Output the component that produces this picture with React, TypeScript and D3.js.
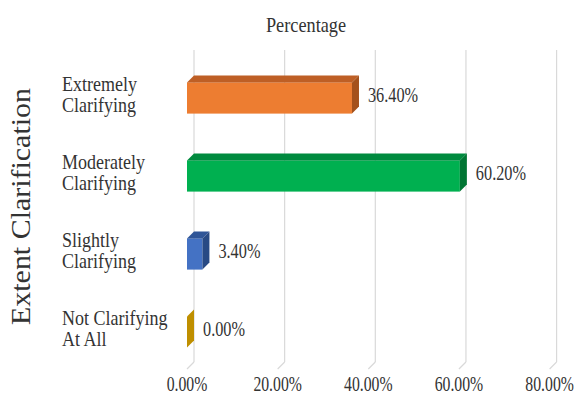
import React from "react";
import * as d3 from "d3";

const categories = ["Extremely Clarifying", "Moderately Clarifying", "Slightly Clarifying", "Not Clarifying At All"];
const categoryLines = [["Extremely", "Clarifying"], ["Moderately", "Clarifying"], ["Slightly", "Clarifying"], ["Not Clarifying", "At All"]];
const values = [36.4, 60.2, 3.4, 0.0];
const ticks = [0, 20, 40, 60, 80];
const frontColors = ["#ED7D31", "#00B050", "#4472C4", "#BF8F00"];
const topColors = ["#BE5F25", "#008A3E", "#2F5597", "#A67C00"];
const sideColors = ["#A4511C", "#007533", "#284A84", "#A07800"];

const W = 582, H = 395;
const DX = 7, DY = 7;
const FONT = "'Liberation Serif', 'Times New Roman', serif";

export default function App() {
  const x = d3.scaleLinear().domain([0, 80]).range([187, 549.6]);
  const y = d3.scaleBand<string>().domain(categories).range([59, 371]).paddingInner(0.6).paddingOuter(0.3);
  const floorY = 369;
  const topY = 50;
  const bh = y.bandwidth();

  return (
    <svg width={W} height={H} style={{ position: "absolute", left: 0, top: 0, background: "#fff", fontFamily: FONT }}>
      {ticks.map((t) => (
        <g key={t}>
          <line x1={x(t) + DX} x2={x(t) + DX} y1={topY} y2={floorY - DY} stroke="#D9D9D9" strokeWidth={1.2} />
          <line x1={x(t) + DX} x2={x(t)} y1={floorY - DY} y2={floorY} stroke="#D9D9D9" strokeWidth={1.2} />
          <text
            transform={`translate(${x(t)},391) scale(0.75,1)`}
            textAnchor="middle"
            fontSize={21}
            fill="#333"
          >
            {t.toFixed(2) + "%"}
          </text>
        </g>
      ))}

      {categories.map((c, i) => {
        const y0 = y(c)!;
        const y1 = y0 + bh;
        const x0 = x(0);
        const x1 = x(values[i]);
        const top = `M${x0},${y0} L${x0 + DX},${y0 - DY} L${x1 + DX},${y0 - DY} L${x1},${y0} Z`;
        const side = `M${x1},${y0} L${x1 + DX},${y0 - DY} L${x1 + DX},${y1 - DY} L${x1},${y1} Z`;
        return (
          <g key={c}>
            <rect x={x0} y={y0} width={x1 - x0} height={bh} fill={frontColors[i]} />
            <path d={top} fill={topColors[i]} />
            <path d={side} fill={values[i] === 0 ? frontColors[i] : sideColors[i]} />
            <text
              transform={`translate(${x1 + DX + 9},${y0 + bh / 2 + 4}) scale(0.74,1)`}
              fontSize={22}
              fill="#333"
            >
              {values[i].toFixed(2) + "%"}
            </text>
          </g>
        );
      })}

      {categories.map((c, i) => {
        const cy = y(c)! + bh / 2;
        return (
          <g key={"l" + c}>
            {categoryLines[i].map((ln, j) => (
              <text
                key={j}
                transform={`translate(62,${cy - 7 + j * 21}) scale(0.9,1)`}
                fontSize={20}
                fill="#333"
              >
                {ln}
              </text>
            ))}
          </g>
        );
      })}

      <text transform="translate(306,32) scale(0.87,1)" textAnchor="middle" fontSize={21} fill="#333">
        Percentage
      </text>

      <text transform="translate(30,206.5) rotate(-90) scale(1.13,1)" textAnchor="middle" fontSize={26.5} fill="#333">
        Extent Clarification
      </text>
    </svg>
  );
}
